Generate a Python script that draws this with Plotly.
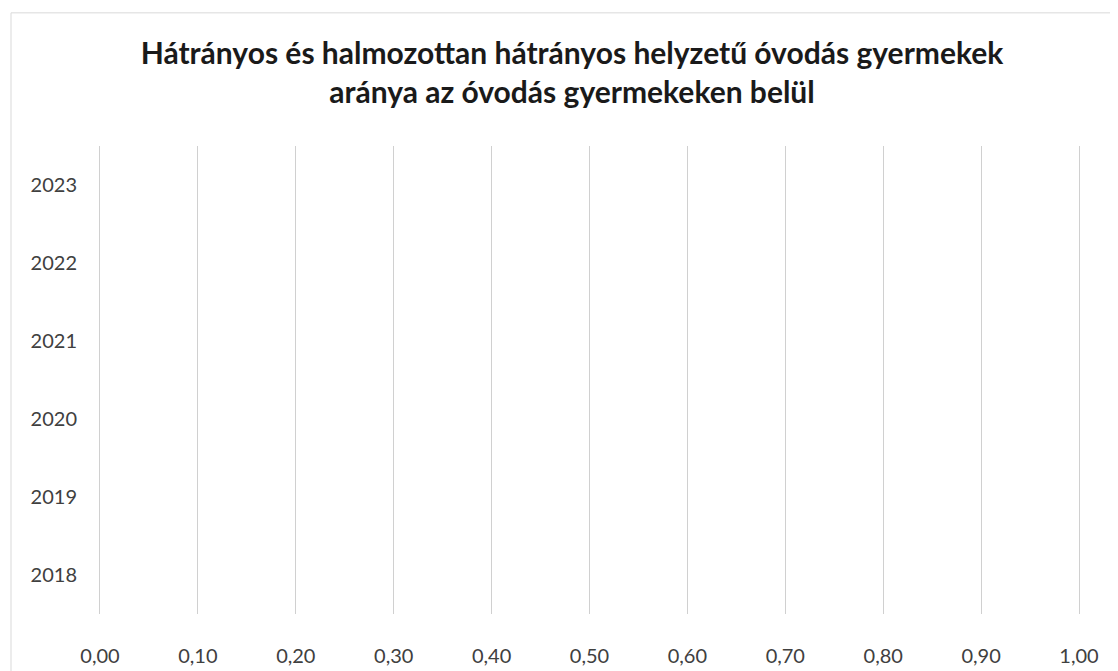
import plotly.graph_objects as go

years = ["2018", "2019", "2020", "2021", "2022", "2023"]
hatranyos = [None, None, None, None, None, None]
halmozottan = [None, None, None, None, None, None]
x_ticks = [0.0, 0.1, 0.2, 0.3, 0.4, 0.5, 0.6, 0.7, 0.8, 0.9, 1.0]
x_tick_labels = ["0,00", "0,10", "0,20", "0,30", "0,40", "0,50", "0,60", "0,70", "0,80", "0,90", "1,00"]

W, H = 1118, 671
OFF = 8  # page body margin
L, T = 100 - OFF, 146 - OFF
R = W - (1079 - OFF)
B = H - (617 - OFF)
GRID = "#d0d0d0"

fig = go.Figure()
fig.add_trace(go.Bar(y=years, x=hatranyos, orientation="h", name="Hátrányos",
                     marker_color="#4472C4", showlegend=False))
fig.add_trace(go.Bar(y=years, x=halmozottan, orientation="h", name="Halmozottan hátrányos",
                     marker_color="#ED7D31", showlegend=False))

pw = W - L - R
ph = H - T - B
fig.add_shape(type="rect", xref="paper", yref="paper",
              x0=(11 - OFF - L) / pw, x1=(1125 - L) / pw,
              y0=-(700 - (H - B)) / ph, y1=1 + (T - (12 - OFF)) / ph,
              line=dict(color="#d9d9d9", width=1), layer="below")

fig.update_layout(
    width=W, height=H,
    margin=dict(l=L, r=R, t=T, b=B),
    paper_bgcolor="white", plot_bgcolor="white",
    font=dict(family="Lato, Carlito, Calibri, sans-serif", color="#404040", size=20),
    title=dict(
        text="<b>Hátrányos és halmozottan hátrányos helyzetű óvodás gyermekek<br>aránya az óvodás gyermekeken belül</b>",
        x=(572 - OFF - L) / pw, xref="paper", xanchor="center",
        y=1 - (64 - OFF) / H, yanchor="middle",
        font=dict(size=30, color="#1a1a1a", family="Lato, Carlito, sans-serif"),
    ),
    barmode="group",
    xaxis=dict(range=[0, 1], tickvals=x_ticks, ticktext=x_tick_labels,
               showgrid=True, gridcolor=GRID, gridwidth=1,
               zeroline=False, showline=False,
               ticks="outside", ticklen=24, tickcolor="rgba(0,0,0,0)",
               tickfont=dict(size=20, color="#404040")),
    yaxis=dict(categoryorder="array", categoryarray=years,
               showgrid=False, zeroline=False,
               showline=True, linecolor=GRID, linewidth=1, mirror=True,
               ticks="outside", ticklen=18, tickcolor="rgba(0,0,0,0)",
               tickfont=dict(size=20, color="#404040")),
)

fig.write_html("out.html")
